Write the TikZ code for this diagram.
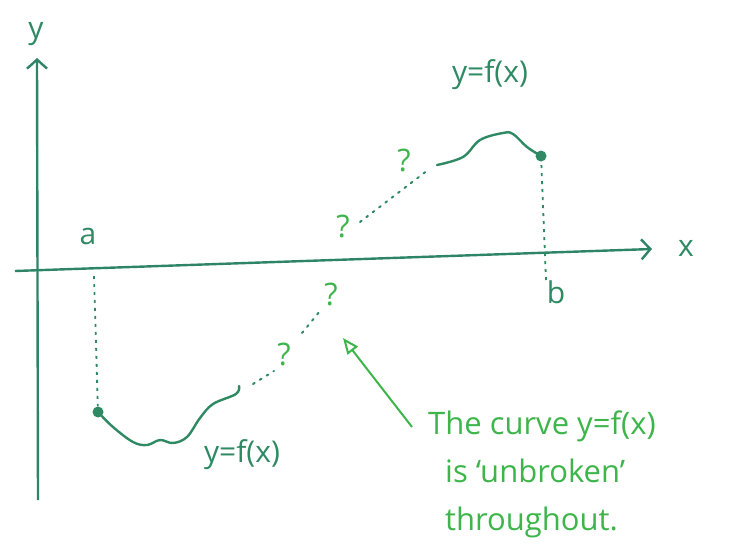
\documentclass[tikz,border=0pt]{standalone}
\usepackage{fontspec}
\setmainfont{Open Sans}
\usetikzlibrary{arrows.meta,positioning}
\definecolor{axteal}{HTML}{2E8466}
\definecolor{penteal}{HTML}{2F8A64}
\definecolor{pengreen}{HTML}{3DB54A}
\tikzset{
  ax/.style     ={-{Straight Barb[length=9pt,width=20pt,line width=2.4pt]}, line width=2.4pt, draw=axteal},
  crv/.style    ={line width=2.4pt, draw=penteal, line cap=round, line join=round},
  gapline/.style={line width=2pt, draw=penteal, dash pattern=on 2pt off 6pt, line cap=round},
  drop/.style   ={line width=1.8pt, draw=penteal, dash pattern=on 3pt off 5pt},
  lbl/.style    ={text=penteal, font=\fontsize{30}{34}\selectfont, inner sep=1pt},
  qm/.style     ={text=pengreen, font=\fontsize{31}{34}\selectfont, inner sep=1pt},
  note/.style   ={text=pengreen, align=left, font=\fontsize{31}{48}\selectfont, inner sep=0pt},
  ptr/.style    ={-{Triangle[open,length=16pt,width=13pt,line width=2pt]}, line width=2pt, draw=pengreen},
  endpt/.style  ={circle, fill=penteal, inner sep=0pt, minimum size=11pt}
}

\begin{document}
\begin{tikzpicture}[x=1pt, y=-1pt]
  \useasboundingbox (0,0) rectangle (740,555);

  % axes
  \coordinate (ybot) at (38,500);
  \coordinate (ytop) at (37,58);
  \coordinate (xl) at (15,271);
  \coordinate (xr) at (652,249);
  \draw[ax] (ybot) -- (ytop);
  \draw[ax] (xl) -- (xr);
  \node[lbl] (ylab) at (36,34) {y};
  \node[lbl] (xlab) at (686,248) {x};
  \node[lbl] (alab) at (88,236) {a};
  \node[lbl] (blab) at (556,292) {b};

  % end points and drops
  \node[endpt] (pa) at (98,412) {};
  \node[endpt] (pb) at (541,156) {};
  \coordinate (ta) at (94,276);
  \coordinate (tb) at (546,280);
  \draw[drop] (ta) -- (pa);
  \draw[drop] (tb) -- (pb);

  % lower piece
  \draw[crv] plot[smooth, tension=0.6] coordinates {(98,412) (113,427) (133,442) (147,445) (160,440)
    (173,443) (187,437) (200,418) (213,404) (236,394) (239,386)};
  \coordinate (g1a) at (253,384);
  \coordinate (g1b) at (274,371);
  \draw[gapline] (g1a) -- (g1b);
  \node[qm] (q1) at (284,354) {?};
  \coordinate (g2a) at (302,333);
  \coordinate (g2b) at (320,311);
  \draw[gapline] (g2a) -- (g2b);
  \node[qm] (q2) at (331,294) {?};

  % upper piece
  \node[qm] (q3) at (343,226) {?};
  \coordinate (g3a) at (360,222);
  \coordinate (g3b) at (428,170);
  \draw[gapline] (g3a) -- (g3b);
  \node[qm] (q4) at (404,160) {?};
  \draw[crv] plot[smooth, tension=0.6] coordinates {(437,165) (463,157) (480,140) (503,133)
    (513,134) (527,147) (541,156)};

  \node[lbl] (fup) at (490,75) {y=f(x)};
  \node[lbl] (flow) at (242,455) {y=f(x)};

  % comment
  \node[note, anchor=north west] (note) at (428,411)
    {The curve y=f(x)\\\hspace{17pt}is `unbroken'\\\hspace{17pt}throughout.};
  \coordinate (tip) at (343,338);
  \draw[ptr] ([shift={(-16pt,-16pt)}]note.north west) -- (tip);
\end{tikzpicture}
\end{document}
